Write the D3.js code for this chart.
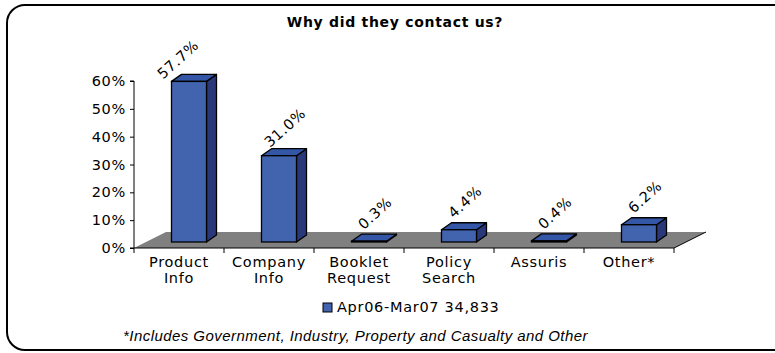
<!DOCTYPE html>
<html>
<head>
<meta charset="utf-8">
<script src="https://cdn.jsdelivr.net/npm/d3@7"></script>
<style>
  body { margin: 0; background: #fff; }
  svg { display: block; }
</style>
</head>
<body>
<div id="chart"></div>
<script>
// data
var categories = ["Product Info", "Company Info", "Booklet Request", "Policy Search", "Assuris", "Other*"];
var catLines = [["Product", "Info"], ["Company", "Info"], ["Booklet", "Request"], ["Policy", "Search"], ["Assuris"], ["Other*"]];
var values = [57.7, 31.0, 0.3, 4.4, 0.4, 6.2];
var yTicks = [0, 10, 20, 30, 40, 50, 60];
var seriesName = "Apr06-Mar07 34,833";
var title = "Why did they contact us?";
var footnote = "*Includes Government, Industry, Property and Casualty and Other";

var W = 775, H = 353;
var font = "Verdana, 'DejaVu Sans', sans-serif";

function txt(sel, size) {
  return sel.style("font-family", font).style("font-size", size || "14.5px").style("letter-spacing", "0.7px");
}

var svg = d3.select("#chart").append("svg")
  .attr("width", W).attr("height", H);

// frame
svg.append("rect")
  .attr("x", 7).attr("y", 5)
  .attr("width", W + 20).attr("height", 345)
  .attr("rx", 18).attr("ry", 18)
  .attr("fill", "#fff").attr("stroke", "#000").attr("stroke-width", 2);

txt(svg.append("text")
  .attr("x", 395).attr("y", 27)
  .attr("text-anchor", "middle"), "14px")
  .style("font-weight", "bold")
  .text(title);

// scales
var x = d3.scaleBand().domain(categories).range([134, 674]);
var y = d3.scaleLinear().domain([0, 60]).range([248, 81]);

// 3d offsets
var floorDx = 32, floorDy = -16;
var frontDx = 10, frontDy = -6;
var depthDx = 10, depthDy = -7;
var barW = 35;

// floor
var x0 = 134, x1 = 674, yb = y(0);
svg.append("path")
  .attr("d", "M" + x0 + "," + yb + "L" + (x0 + floorDx) + "," + (yb + floorDy) +
    "L" + (x1 + floorDx) + "," + (yb + floorDy) + "L" + x1 + "," + yb + "Z")
  .attr("fill", "#808080");
svg.append("line")
  .attr("x1", x1).attr("y1", yb).attr("x2", x1 + floorDx).attr("y2", yb + floorDy)
  .attr("stroke", "#000").attr("stroke-width", 1);

// bars
var bars = svg.append("g").selectAll("g").data(values).enter().append("g");
bars.each(function(v, i) {
  var g = d3.select(this);
  var cx = x(categories[i]) + x.bandwidth() / 2 + frontDx;
  var l = cx - barW / 2, r = cx + barW / 2;
  var b = y(0) + frontDy, t = y(v) + frontDy;
  // side
  g.append("path")
    .attr("d", "M" + r + "," + b + "L" + (r + depthDx) + "," + (b + depthDy) +
      "L" + (r + depthDx) + "," + (t + depthDy) + "L" + r + "," + t + "Z")
    .attr("fill", "#283878").attr("stroke", "#000").attr("stroke-width", 1.3).attr("stroke-linejoin", "round");
  // top
  g.append("path")
    .attr("d", "M" + l + "," + t + "L" + (l + depthDx) + "," + (t + depthDy) +
      "L" + (r + depthDx) + "," + (t + depthDy) + "L" + r + "," + t + "Z")
    .attr("fill", "#3456a6").attr("stroke", "#000").attr("stroke-width", 1.3).attr("stroke-linejoin", "round");
  // front
  g.append("rect")
    .attr("x", l).attr("y", t).attr("width", barW).attr("height", b - t)
    .attr("fill", "#4263ae").attr("stroke", "#000").attr("stroke-width", 1.3);
  // label
  var lx = cx + 6, ly = t - 28;
  if (v > 50) { lx = cx - 11; ly = t - 22; }
  txt(g.append("text")
    .attr("transform", "translate(" + lx + "," + ly + ") rotate(-42)")
    .attr("text-anchor", "middle").attr("dy", "0.35em"))
    .text(v.toFixed(1) + "%");
});

// axes
var yAxis = svg.append("g")
  .attr("transform", "translate(134,0)")
  .call(d3.axisLeft(y).tickValues(yTicks).tickSize(4).tickPadding(4).tickFormat(function(d) { return d + "%"; }));
yAxis.select(".domain").attr("d", "M-4," + y(60) + "H0V" + y(0) + "H-4");
txt(yAxis.selectAll("text")).attr("fill", "#000");

var xg = svg.append("g").attr("transform", "translate(0," + y(0) + ")");
xg.append("line").attr("x1", 134).attr("x2", 674).attr("stroke", "#000");
var bounds = categories.map(function(c) { return x(c); }).concat([674]);
xg.selectAll("line.tk").data(bounds).enter().append("line")
  .attr("class", "tk")
  .attr("x1", function(d) { return d; }).attr("x2", function(d) { return d; })
  .attr("y1", 0).attr("y2", 5).attr("stroke", "#000");
txt(xg.selectAll("text.cat").data(categories).enter().append("text")
  .attr("class", "cat")
  .attr("x", function(d) { return x(d) + x.bandwidth() / 2; })
  .attr("y", 19)
  .attr("text-anchor", "middle"))
  .each(function(d, i) {
    var t = d3.select(this);
    catLines[i].forEach(function(s, k) {
      t.append("tspan").attr("x", x(d) + x.bandwidth() / 2).attr("dy", k === 0 ? 0 : 15.5).text(s);
    });
  });

// legend
svg.append("rect")
  .attr("x", 323).attr("y", 303).attr("width", 9).attr("height", 9)
  .attr("fill", "#4263ae").attr("stroke", "#000");
txt(svg.append("text")
  .attr("x", 337).attr("y", 312))
  .text(seriesName);

// footnote
svg.append("text")
  .attr("x", 123).attr("y", 341)
  .style("font-family", "Arial, 'Liberation Sans', sans-serif").style("font-size", "15px")
  .style("font-style", "italic").style("letter-spacing", "0.45px")
  .text(footnote);
</script>
</body>
</html>
